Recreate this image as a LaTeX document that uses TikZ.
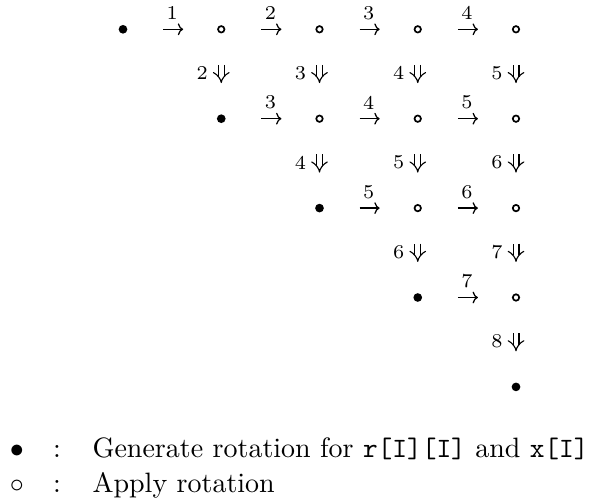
\documentclass[tikz,border=0pt]{standalone}
\usetikzlibrary{arrows.meta}
\begin{document}
\begin{tikzpicture}[x=0.357pt,y=-0.357pt,
  gen/.style={circle,fill=black,inner sep=0pt,minimum size=3.1pt},
  app/.style={circle,draw=black,line width=0.6pt,inner sep=0pt,minimum size=2.3pt},
  harr/.style={-{To[length=1.9pt,width=4.2pt]},line width=0.45pt,shorten <=14.3pt,shorten >=13.6pt},
  varr/.style={-{Implies[length=2.6pt,width=5pt]},double,double distance=1.7pt,line width=0.4pt,shorten <=12.7pt,shorten >=12.7pt},
  hlab/.style={font=\scriptsize,inner sep=0pt},
  vlab/.style={font=\scriptsize,inner sep=0pt,yshift=0.3pt}]
\useasboundingbox (0,0) rectangle (599,500);
% nodes
\foreach \i in {0,...,4}{
  \foreach \j in {\i,...,4}{
    \ifnum\j=\i
      \node[gen] (n\i\j) at ({123+98.25*\j},{29.3+89.4*\i}) {};
    \else
      \node[app] (n\i\j) at ({123+98.25*\j},{29.3+89.4*\i}) {};
    \fi
  }
}
% horizontal arrows
\foreach \i in {0,...,3}{
  \foreach \j in {\i,...,3}{
    \pgfmathtruncatemacro\k{\j+1}
    \pgfmathtruncatemacro\lbl{\i+\j+1}
    \draw[harr] (n\i\j.center) -- (n\i\k.center) node[midway,above=3.1pt,hlab] {\lbl};
  }
}
% vertical arrows
\foreach \i in {0,...,3}{
  \pgfmathtruncatemacro\m{\i+1}
  \foreach \j in {\m,...,4}{
    \pgfmathtruncatemacro\lbl{\i+\j+1}
    \draw[varr] (n\i\j.center) -- (n\m\j.center) node[midway,left=4.6pt,vlab] {\lbl};
  }
}
% legend
\node[anchor=base] (lg1) at (17,457) {$\bullet$};
\node[anchor=base] (lc1) at (57,457) {:};
\node[anchor=base west,inner sep=0pt] (lt1) at (92,457) {Generate rotation for \texttt{r[I][I]} and \texttt{x[I]}};
\node[anchor=base] (lg2) at (17,492) {$\circ$};
\node[anchor=base] (lc2) at (57,492) {:};
\node[anchor=base west,inner sep=0pt] (lt2) at (92,492) {Apply rotation};
\end{tikzpicture}
\end{document}
